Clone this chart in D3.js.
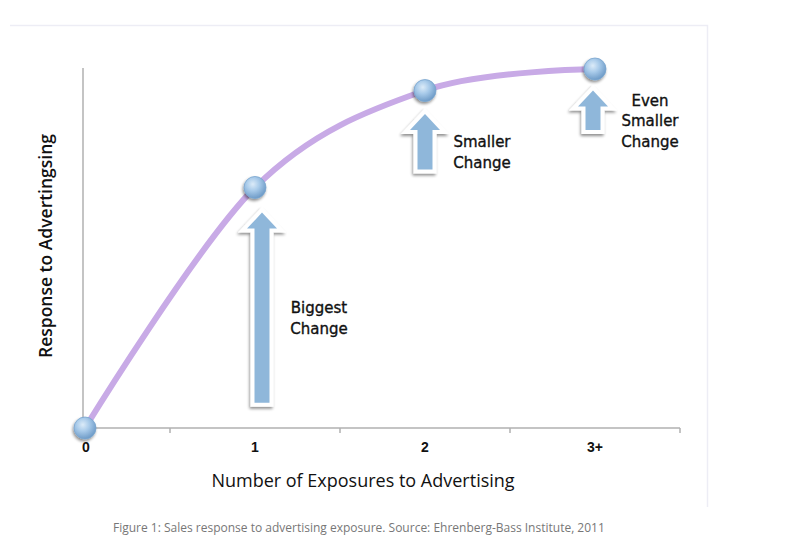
<!DOCTYPE html>
<html>
<head>
<meta charset="utf-8">
<script src="https://cdn.jsdelivr.net/npm/d3@7"></script>
<style>
  body { margin: 0; background: #fff; }
  svg { display: block; }
</style>
</head>
<body>
<svg id="chart" width="808" height="547"></svg>
<script>
// chart data
const categories = ["0", "1", "2", "3+"];
const responses = [0, 67, 94, 100];

// the "change" arrows, in response units
const arrowCats = ["1", "2", "3+"];
const arrowBase = [7, 72, 83];
const arrowTip = [60, 87.5, 94];
const arrowLabels = [["Biggest", "Change"], ["Smaller", "Change"], ["Even", "Smaller", "Change"]];

const xTitle = "Number of Exposures to Advertising";
const yTitle = "Response to Advertingsing";
const caption = "Figure 1: Sales response to advertising exposure. Source: Ehrenberg-Bass Institute, 2011";

const svg = d3.select("#chart");

// plot area
const plotLeft = 83, plotRight = 680, plotTop = 68, plotBottom = 428;

let x = d3.scalePoint()
  .domain(categories)
  .range([85, 595]);

let y = d3.scaleLinear()
  .domain([0, 100])
  .range([plotBottom, plotTop + 1]);

let defs = svg.append("defs");

let grad = defs.append("radialGradient")
  .attr("id", "ball")
  .attr("cx", "40%").attr("cy", "35%").attr("r", "65%");
grad.append("stop").attr("offset", "0%").attr("stop-color", "#dcebf8");
grad.append("stop").attr("offset", "45%").attr("stop-color", "#a9cbea");
grad.append("stop").attr("offset", "100%").attr("stop-color", "#6f9cc8");

let shadow = defs.append("filter")
  .attr("id", "shadow")
  .attr("x", "-50%").attr("y", "-50%").attr("width", "200%").attr("height", "200%");
shadow.append("feGaussianBlur").attr("in", "SourceAlpha").attr("stdDeviation", 1.5);
shadow.append("feOffset").attr("dx", -1).attr("dy", 2).attr("result", "off");
shadow.append("feComponentTransfer").append("feFuncA").attr("type", "linear").attr("slope", 0.45);
let merge = shadow.append("feMerge");
merge.append("feMergeNode");
merge.append("feMergeNode").attr("in", "SourceGraphic");

// faint frame round the figure
svg.append("path")
  .attr("d", "M10,25.5H707.5V507")
  .attr("fill", "none")
  .attr("stroke", "#ededf5")
  .attr("stroke-width", 1.5);

// axes
svg.append("line")
  .attr("x1", plotLeft).attr("x2", plotLeft)
  .attr("y1", plotTop).attr("y2", plotBottom)
  .attr("stroke", "#b0b0b0").attr("stroke-width", 1.5);

let step = x.step();

svg.append("line")
  .attr("x1", plotLeft).attr("x2", plotRight)
  .attr("y1", plotBottom).attr("y2", plotBottom)
  .attr("stroke", "#b0b0b0").attr("stroke-width", 1.5);

svg.selectAll(".tick-mark")
  .data(categories)
  .enter()
  .append("line")
    .attr("class", "tick-mark")
    .attr("x1", d => x(d) + step / 2)
    .attr("x2", d => x(d) + step / 2)
    .attr("y1", plotBottom)
    .attr("y2", plotBottom + 5)
    .attr("stroke", "#b0b0b0").attr("stroke-width", 1.5);

svg.selectAll(".tick-label")
  .data(categories)
  .enter()
  .append("text")
    .attr("class", "tick-label")
    .attr("x", d => x(d) + (d === "0" ? 1 : 0))
    .attr("y", plotBottom + 24)
    .attr("text-anchor", "middle")
    .style("font-family", "Liberation Sans, Arial, sans-serif")
    .style("font-weight", "bold")
    .style("font-size", "14px")
    .style("fill", "#111")
    .text(d => d);

// response curve
let points = categories.map((c, i) => [x(c), y(responses[i])]);
let line = d3.line().curve(d3.curveCardinal.tension(0));

svg.append("path")
  .attr("d", line(points))
  .attr("fill", "none")
  .attr("stroke", "#c8aae6")
  .attr("stroke-width", 6)
  .attr("stroke-linecap", "round");

// block arrows
function arrowPath(cx, yTop, yBot) {
  let sw = 7.5, hw = 15, hh = 16;
  return "M" + cx + "," + yTop
    + "L" + (cx + hw) + "," + (yTop + hh)
    + "L" + (cx + sw) + "," + (yTop + hh)
    + "L" + (cx + sw) + "," + yBot
    + "L" + (cx - sw) + "," + yBot
    + "L" + (cx - sw) + "," + (yTop + hh)
    + "L" + (cx - hw) + "," + (yTop + hh)
    + "Z";
}

const nudge = { "1": 7, "2": 0, "3+": -2 };
let arrows = arrowCats.map((c, i) => ({
  cx: x(c) + nudge[c],
  tip: y(arrowTip[i]),
  base: y(arrowBase[i]),
  label: arrowLabels[i]
}));

let ag = svg.selectAll(".arrow")
  .data(arrows)
  .enter()
  .append("g")
    .attr("class", "arrow");

ag.append("path")
  .attr("d", d => arrowPath(d.cx, d.tip, d.base))
  .attr("fill", "#fff")
  .attr("stroke", "#fff")
  .attr("stroke-width", 8)
  .attr("stroke-linejoin", "miter")
  .attr("filter", "url(#shadow)");

ag.append("path")
  .attr("d", d => arrowPath(d.cx, d.tip, d.base))
  .attr("fill", "#8fb7da");

ag.each(function(d) {
  let g = d3.select(this);
  let mid = (d.tip + d.base) / 2 + 11;
  let lh = 20.5;
  let n = d.label.length;
  g.selectAll("text")
    .data(d.label)
    .enter()
    .append("text")
      .attr("x", d.cx + 57)
      .attr("y", (t, i) => mid + (i - (n - 1) / 2) * lh + 5)
      .attr("text-anchor", "middle")
      .style("font-family", "DejaVu Sans, sans-serif")
      .style("font-size", "15px")
      .style("fill", "#111")
      .style("stroke", "#111")
      .style("stroke-width", 0.35)
      .text(t => t);
});

// points
svg.selectAll(".dot")
  .data(points)
  .enter()
  .append("circle")
    .attr("class", "dot")
    .attr("cx", d => d[0])
    .attr("cy", d => d[1])
    .attr("r", 11)
    .attr("fill", "url(#ball)")
    .attr("stroke", "#7aa6cf")
    .attr("stroke-width", 0.8)
    .attr("filter", "url(#shadow)");

// titles
svg.append("text")
  .attr("x", 363)
  .attr("y", 487)
  .attr("text-anchor", "middle")
  .style("font-family", "Open Sans, sans-serif")
  .style("font-weight", "500")
  .style("font-size", "18px")
  .style("fill", "#111")
  .text(xTitle);

svg.append("text")
  .attr("transform", "translate(52,246) rotate(-90)")
  .attr("text-anchor", "middle")
  .style("font-family", "Open Sans, sans-serif")
  .style("font-weight", "600")
  .style("font-size", "17.5px")
  .style("fill", "#111")
  .text(yTitle);

svg.append("text")
  .attr("x", 113)
  .attr("y", 532)
  .style("font-family", "Open Sans, sans-serif")
  .style("font-size", "12px")
  .style("fill", "#777")
  .text(caption);
</script>
</body>
</html>
